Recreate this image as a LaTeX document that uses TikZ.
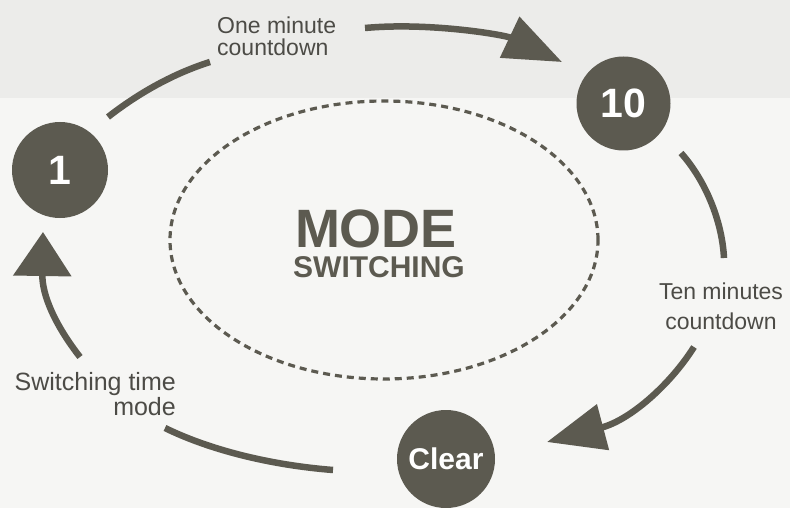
\documentclass[tikz,border=0pt]{standalone}
\usepackage{fontspec}
\setmainfont{Liberation Sans}
\usetikzlibrary{arrows.meta,calc}
\definecolor{ink}{HTML}{5C5A50}
\definecolor{txt}{HTML}{4C4B46}
\definecolor{bgtop}{HTML}{ECECEA}
\definecolor{bgbot}{HTML}{F6F6F4}
\begin{document}
\begin{tikzpicture}[x=1pt,y=-1pt,
  state/.style={circle, fill=ink, text=white, font=\bfseries\fontsize{41}{41}\selectfont, minimum size=96pt, inner sep=0pt},
  flow/.style={draw=ink, line width=6.5pt},
  lbl/.style={text=txt, inner sep=0pt, font=\fontsize{23}{22}\selectfont},
  title/.style={anchor=base, text=ink, inner sep=0pt, text height=0.72em, text depth=0pt}]
\fill[bgbot] (0,0) rectangle (790,508);
\fill[bgtop] (0,0) rectangle (790,98);
\useasboundingbox (0,0) rectangle (790,508);

% dashed ellipse
\draw[ink, line width=3.2pt, dash pattern=on 7pt off 5pt] (384,240) ellipse [x radius=214pt, y radius=139pt];
\node[title, font=\bfseries\fontsize{54}{54}\selectfont] (mode) at (376,247) {MODE};
\node[title, font=\bfseries\fontsize{30}{30}\selectfont] (switching) at (379,277) {SWITCHING};

% states
\node[state] (one) at (60,170) {1};
\node[state, minimum size=94pt] (ten) at (623.5,103.5) {10};
\node[state, minimum size=98pt, font=\bfseries\fontsize{30}{30}\selectfont] (clear) at (446,459) {Clear};

% labels
\node[lbl, anchor=west, align=left] (l1) at (217,36.5) {One minute\\countdown};
\node[lbl, align=center, font=\fontsize{23}{30}\selectfont] (l2) at (721,306.5) {Ten minutes\\countdown};
\node[lbl, anchor=east, align=right, font=\fontsize{25}{25}\selectfont] (l3) at (176,394) {Switching time\\mode};

% connector end points
\coordinate (a1s) at ($(one)+(48,-53)$);
\coordinate (a1b) at (210,62);
\coordinate (a1c) at (365,28);
\coordinate (a1t) at ($(ten)+(-61.5,-41.5)$);
\coordinate (a2s) at ($(ten)+(57.5,49.5)$);
\coordinate (a2b) at (724,258);
\coordinate (a2c) at (694,347);
\coordinate (a2t) at ($(clear)+(101,-17)$);
\coordinate (a3s) at ($(clear)+(-113,11)$);
\coordinate (a3b) at (165,428);
\coordinate (a3c) at (80,357);
\coordinate (a3t) at ($(one)+(-17,62)$);

% arrows
\draw[flow] (a1s) .. controls (140,92) and (175,73) .. (a1b);
\draw[flow, -{Triangle[length=58pt,width=44pt]}] (a1c) .. controls (430,22) and (505,35) .. (a1t);
\draw[flow] (a2s) .. controls (705,180) and (722,220) .. (a2b);
\draw[flow, -{Triangle[length=58pt,width=46pt]}] (a2c) .. controls (670,385) and (630,420) .. (a2t);
\draw[flow] (a3s) .. controls (270,465) and (210,450) .. (a3b);
\draw[flow, -{Triangle[length=44pt,width=57pt]}] (a3c) .. controls (55,325) and (42,295) .. (a3t);
\end{tikzpicture}
\end{document}
